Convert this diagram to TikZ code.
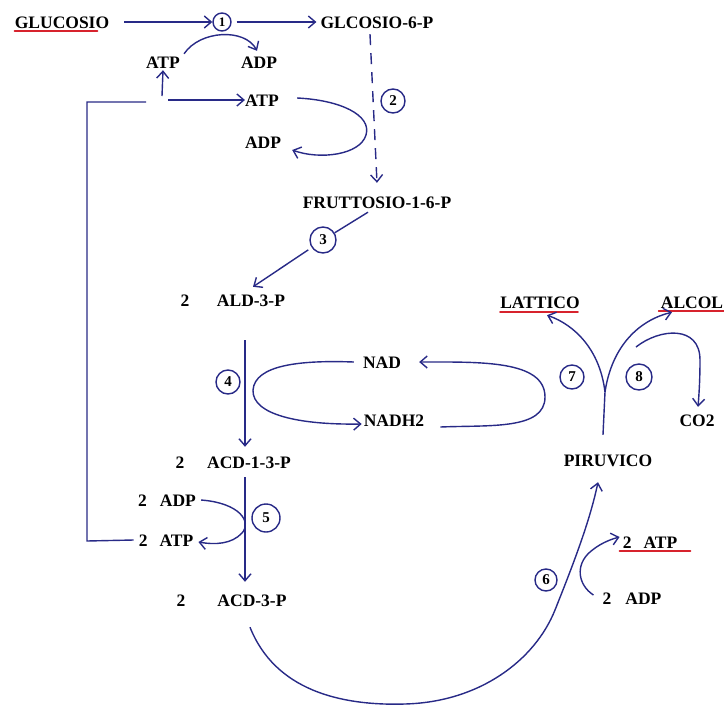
\documentclass[tikz,border=0pt]{standalone}
\usepackage{fontspec}
\setmainfont{Liberation Serif}
\usetikzlibrary{arrows.meta}
\definecolor{ink}{RGB}{40,42,135}
\definecolor{redline}{RGB}{215,35,45}
\begin{document}
\begin{tikzpicture}[x=1pt,y=-1pt,
  lbl/.style={inner sep=0pt, text height=12pt, text depth=0pt, font=\fontsize{17.5}{20}\selectfont\bfseries},
  num/.style={circle, draw=ink, line width=1.4pt, inner sep=0pt, minimum size=24pt, font=\fontsize{15}{15}\selectfont\bfseries},
  ln/.style={draw=ink, line width=1.4pt},
  arr/.style={ln, -{Straight Barb[length=7pt,width=12pt,line width=1.4pt]}},
  uline/.style={draw=redline, line width=1.8pt, line cap=round}]
\useasboundingbox (0,0) rectangle (724,705);
\fill[white] (0,0) rectangle (724,705);

% ---------- nodes ----------
\node[lbl] (glu)  at (62,22)  {GLUCOSIO};
\node[num, minimum size=18pt, font=\fontsize{13}{13}\selectfont\bfseries] (c1) at (222,22) {1};
\node[lbl] (g6p)  at (377,22) {GLCOSIO-6-P};
\node[lbl] (atpA) at (163,62) {ATP};
\node[lbl] (adpA) at (259,62) {ADP};
\node[lbl] (atpB) at (262,100) {ATP};
\node[lbl] (adpB) at (263,142) {ADP};
\node[num] (c2) at (393,101) {2};
\node[lbl] (f16)  at (377,202) {FRUTTOSIO-1-6-P};
\node[num, minimum size=26pt] (c3) at (323,240) {3};
\node[lbl] (twoA) at (185,300) {2};
\node[lbl] (ald)  at (251,300) {ALD-3-P};
\node[num] (c4) at (228,382) {4};
\node[lbl] (nad)  at (382,362) {NAD};
\node[lbl] (nadh) at (394,420) {NADH2};
\node[lbl] (twoB) at (180,462) {2};
\node[lbl] (acd13) at (249,462) {ACD-1-3-P};
\node[lbl] (adpC) at (167,500) {2\hspace{13pt}ADP};
\node[lbl] (atpC) at (166,540) {2\hspace{12pt}ATP};
\node[num, minimum size=28pt] (c5) at (266,518) {5};
\node[lbl] (twoC) at (181,600) {2};
\node[lbl] (acd3) at (252,600) {ACD-3-P};
\node[lbl] (lat)  at (540,302) {LATTICO};
\node[lbl] (alc)  at (692,302) {ALCOL};
\node[num] (c7) at (572,377) {7};
\node[num, minimum size=26pt] (c8) at (639,377) {8};
\node[lbl] (co2)  at (697,420) {CO2};
\node[lbl] (piru) at (608,460) {PIRUVICO};
\node[lbl] (atpD) at (650,542) {2\hspace{12pt}ATP};
\node[lbl] (adpD) at (632,598) {2\hspace{14pt}ADP};
\node[num, minimum size=22pt] (c6) at (546,580) {6};

% ---------- underlines ----------
\draw[uline] ([yshift=-3pt]glu.south west) -- ([xshift=-12pt,yshift=-3pt]glu.south east);
\draw[uline] ([yshift=-4pt]lat.south west) -- ([xshift=-2pt,yshift=-4pt]lat.south east);
\draw[uline] ([xshift=-2pt,yshift=-3pt]alc.south west) -- ([xshift=2pt,yshift=-3pt]alc.south east);
\draw[uline] ([xshift=-3pt,yshift=-3pt]atpD.south west) -- ([xshift=13pt,yshift=-3pt]atpD.south east);

% ---------- helper coordinates ----------
\coordinate (lA) at (87,102);
\coordinate (lB) at (87,541);
\coordinate (gapL) at (146,102);
\coordinate (jA) at (162,96);
\coordinate (jB) at (168,100);
\coordinate (fork) at (605,392);
\coordinate (b8) at (636,347);

% ---------- step 1 ----------
\draw[arr] ([xshift=15pt]glu.east) -- (c1.west);
\draw[arr] ([xshift=5pt]c1.east) -- ([xshift=-4pt]g6p.west);
\draw[arr] ([shift={(4pt,2pt)}]atpA.north east) .. controls (200,30) and (245,28) .. ([shift={(-2pt,5pt)}]adpA.north);

% ATP return loop
\draw[ln] ([xshift=-5pt]atpC.west) -- (lB) -- (lA) -- (gapL);
\draw[arr] (jA) -- ([yshift=-2pt]atpA.south);
\draw[arr] (jB) -- (atpB.west);

% ---------- step 2 ----------
\draw[arr] ([xshift=18pt,yshift=2pt]atpB.east) .. controls (340,100) and (372,115) .. (366,135)
  .. controls (360,155) and (320,160) .. ([shift={(11pt,-8pt)}]adpB.east);
\draw[arr, dash pattern=on 11pt off 8pt] ([shift={(-7pt,-6pt)}]g6p.south) -- ([yshift=13pt]f16.north);

% ---------- step 3 ----------
\draw[ln] ([shift={(-9pt,-4pt)}]f16.south) -- (c3);
\draw[arr, shorten <=4pt] (c3) -- ([shift={(2pt,7pt)}]ald.north);

% ---------- step 4 ----------
\draw[arr, line width=1.1pt] ([shift={(-6pt,-34pt)}]ald.south) -- ([shift={(-4pt,9pt)}]acd13.north);
\draw[arr] ([xshift=-9pt]nad.west) .. controls (300,360) and (255,365) .. (253,390)
  .. controls (252,415) and (300,425) .. ([shift={(-2pt,-4pt)}]nadh.west);
\draw[arr] ([shift={(16pt,-7pt)}]nadh.east) .. controls (490,425) and (545,430) .. (545,397)
  .. controls (545,360) and (480,362) .. ([xshift=18pt]nad.east);

% ---------- step 5 ----------
\draw[arr, line width=1.1pt] ([shift={(-4pt,-9pt)}]acd13.south) -- ([shift={(-7pt,12pt)}]acd3.north);
\draw[arr] ([xshift=5pt]adpC.east) .. controls (240,503) and (252,522) .. (242,533)
  .. controls (232,544) and (215,545) .. ([shift={(5pt,-2pt)}]atpC.east);

% ---------- step 6 ----------
\draw[arr] ([shift={(-2pt,-21pt)}]acd3.south) .. controls (275,690) and (340,706) .. (405,704)
  .. controls (480,702) and (535,660) .. (555,610)
  .. controls (575,560) and (590,520) .. ([shift={(-10pt,-16pt)}]piru.south);
\draw[arr] ([shift={(-9pt,3pt)}]adpD.west) .. controls (578,585) and (575,565) .. (590,552)
  .. controls (598,545) and (608,540) .. ([shift={(-3pt,5pt)}]atpD.west);

% ---------- steps 7 and 8 ----------
\draw[arr] ([shift={(-5pt,19pt)}]piru.north) -- (fork) .. controls (600,350) and (575,325) .. ([shift={(7pt,-7pt)}]lat.south);
\draw[arr] (fork) .. controls (612,345) and (640,320) .. ([shift={(-20pt,-4pt)}]alc.south);
\draw[arr] (b8) .. controls (660,328) and (700,325) .. (700,360)
  .. controls (700,380) and (699,395) .. ([shift={(1pt,7pt)}]co2.north);
\end{tikzpicture}
\end{document}
